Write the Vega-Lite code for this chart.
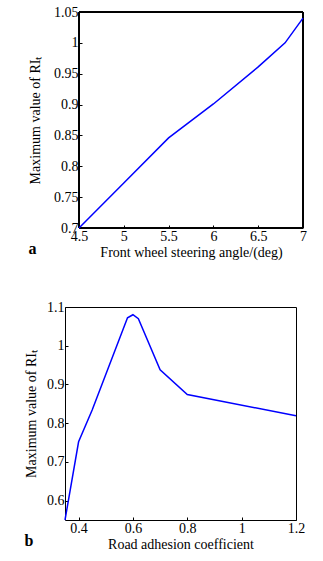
{
  "$schema": "https://vega.github.io/schema/vega-lite/v6.json",
  "padding": {"left": 24, "top": 5, "right": 10, "bottom": 5},
  "background": "white",
  "spacing": 40,
  "config": {
    "font": "Liberation Serif",
    "view": {"stroke": "black", "strokeWidth": 1},
    "axis": {
      "labelFont": "Liberation Serif",
      "titleFont": "Liberation Serif",
      "labelFontSize": 14,
      "titleFontSize": 14,
      "titleFontWeight": "normal",
      "labelColor": "black",
      "titleColor": "black",
      "domain": false,
      "grid": false,
      "tickColor": "black",
      "tickSize": -3,
      "labelPadding": 4,
      "labelFlush": false,
      "labelOverlap": false,
      "format": "~g"
    },
    "title": {"font": "Liberation Serif", "fontSize": 16, "fontWeight": "bold", "color": "black"}
  },
  "vconcat": [
    {
      "width": 238,
      "height": 216,
      "view": {"stroke": null},
      "title": {"text": "a", "orient": "bottom", "anchor": "start", "frame": "bounds", "offset": -18},
      "data": {"values": [
        {"angle": 4.5, "ri": 0.7},
        {"angle": 5.0, "ri": 0.773},
        {"angle": 5.5, "ri": 0.846},
        {"angle": 6.0, "ri": 0.901},
        {"angle": 6.5, "ri": 0.961},
        {"angle": 6.8, "ri": 1.0},
        {"angle": 7.0, "ri": 1.04}
      ]},
      "encoding": {
        "x": {"field": "angle", "type": "quantitative", "title": "Front wheel steering angle/(deg)",
              "scale": {"domain": [4.5, 7], "nice": false, "zero": false, "range": [14, 238]},
              "axis": {"values": [4.5, 5, 5.5, 6, 6.5, 7], "titlePadding": 2}},
        "y": {"field": "ri", "type": "quantitative", "title": "Maximum value of RIₜ",
              "scale": {"domain": [0.7, 1.05], "nice": false, "zero": false},
              "axis": {"values": [0.7, 0.75, 0.8, 0.85, 0.9, 0.95, 1, 1.05], "titlePadding": 11, "offset": -14}}
      },
      "layer": [
        {
          "mark": {"type": "rect", "fill": null, "stroke": "black", "strokeWidth": 1},
          "encoding": {
            "x": {"datum": 4.5},
            "x2": {"datum": 7},
            "y": {"datum": 0.7},
            "y2": {"datum": 1.05}
          }
        },
        {
          "mark": {"type": "line", "color": "#0000ff", "strokeWidth": 1.5}
        }
      ]
    },
    {
      "width": 231,
      "height": 213,
      "title": {"text": "b", "orient": "bottom", "anchor": "start", "frame": "bounds", "offset": -18},
      "data": {"values": [
        {"mu": 0.35, "ri": 0.55},
        {"mu": 0.4, "ri": 0.752},
        {"mu": 0.45, "ri": 0.834},
        {"mu": 0.58, "ri": 1.072},
        {"mu": 0.6, "ri": 1.08},
        {"mu": 0.62, "ri": 1.07},
        {"mu": 0.7, "ri": 0.938},
        {"mu": 0.8, "ri": 0.874},
        {"mu": 1.2, "ri": 0.819}
      ]},
      "mark": {"type": "line", "color": "#0000ff", "strokeWidth": 1.5},
      "encoding": {
        "x": {"field": "mu", "type": "quantitative", "title": "Road adhesion coefficient",
              "scale": {"domain": [0.35, 1.2], "nice": false, "zero": false},
              "axis": {"values": [0.4, 0.6, 0.8, 1, 1.2], "titlePadding": 2}},
        "y": {"field": "ri", "type": "quantitative", "title": "Maximum value of RIₜ",
              "scale": {"domain": [0.55, 1.1], "nice": false, "zero": false},
              "axis": {"values": [0.6, 0.7, 0.8, 0.9, 1, 1.1], "titlePadding": 8}}
      }
    }
  ]
}
